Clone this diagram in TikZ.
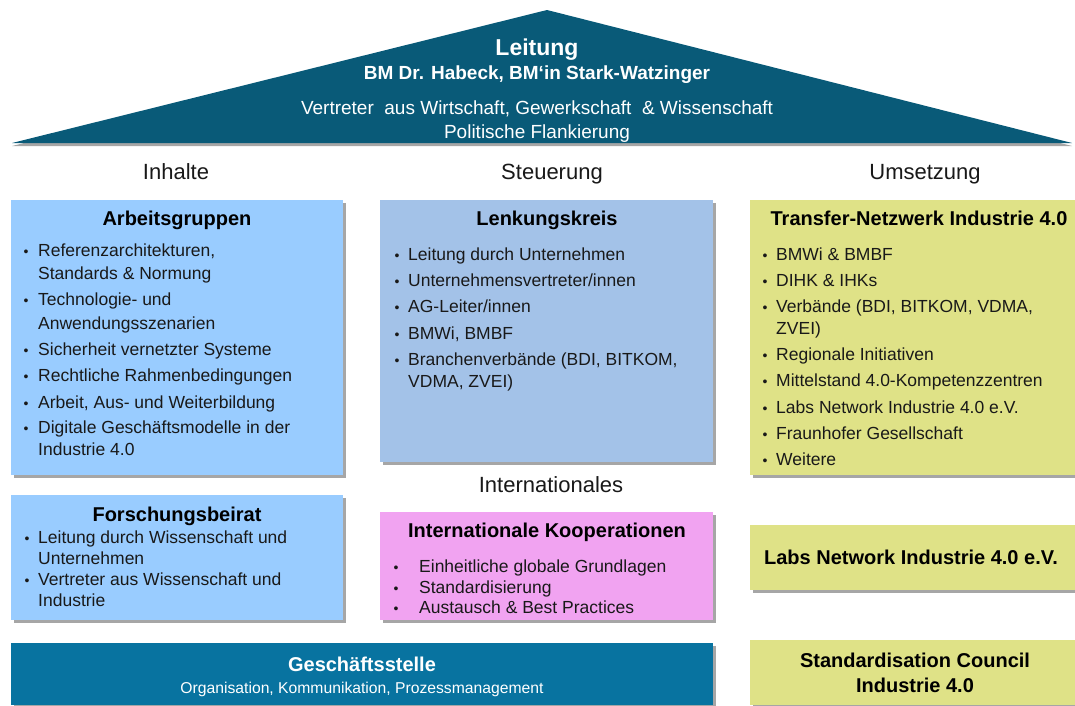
\documentclass[tikz,border=0pt]{standalone}
\usepackage{fontspec}
\setmainfont{Liberation Sans}
\usetikzlibrary{shadows}
\definecolor{roofc}{RGB}{9,90,120}
\definecolor{agblue}{RGB}{153,204,255}
\definecolor{lkblue}{RGB}{163,194,232}
\definecolor{yel}{RGB}{223,226,135}
\definecolor{pink}{RGB}{241,163,241}
\definecolor{gsc}{RGB}{8,115,160}
\definecolor{ink}{RGB}{25,25,25}
\tikzset{
  box/.style={anchor=north west, inner sep=0pt, draw=none,
    drop shadow={shadow xshift=3pt, shadow yshift=-3pt, fill=black, opacity=0.35}},
  txt/.style={anchor=base west, inner sep=0pt, text=ink, font=\fontsize{17.5}{20}\selectfont},
  bul/.style={anchor=base, inner sep=0pt, text=ink, font=\fontsize{14}{16}\selectfont},
  ttl/.style={anchor=base, inner sep=0pt, text=black, font=\fontsize{20}{24}\selectfont\bfseries},
  colhead/.style={anchor=base, inner sep=0pt, text=ink, font=\fontsize{22}{26}\selectfont},
  rooftxt/.style={anchor=base, inner sep=0pt, text=white}
}
\newcommand\bl[5]{%
  \node[bul] (#1b) at (#2,{#4+6}) {\textbullet};
  \node[txt] (#1) at (#3,{#4+6}) {#5};}
\newcommand\cl[4]{\node[txt] (#1) at (#2,{#3+6}) {#4};}
\begin{document}
\begin{tikzpicture}[x=1pt,y=-1pt]
\useasboundingbox (0,0) rectangle (1075,705);
\fill[white] (0,0) rectangle (1075,705);
% roof
\fill[roofc, drop shadow={shadow xshift=0pt, shadow yshift=-3pt, fill=black, opacity=0.35}]
  (12,143) -- (547,10) -- (1072,143) -- cycle;
\node[rooftxt, font=\fontsize{23}{27}\selectfont\bfseries] (leit) at (537,55) {Leitung};
\node[rooftxt, font=\fontsize{19}{23}\selectfont\bfseries] (bm) at (537,79) {BM Dr. Habeck, BM‘in Stark-Watzinger};
\node[rooftxt, font=\fontsize{19}{22}\selectfont] (vert) at (537,114) {Vertreter\ \ aus Wirtschaft, Gewerkschaft\ \ \& Wissenschaft};
\node[rooftxt, font=\fontsize{19}{22}\selectfont] (polit) at (537,138) {Politische Flankierung};
% column headings
\node[colhead] (inh) at (176,179) {Inhalte};
\node[colhead] (steu) at (552,179) {Steuerung};
\node[colhead] (ums) at (925,179) {Umsetzung};
\node[colhead] (intl) at (551,492) {Internationales};
% boxes
\node[box, fill=agblue, minimum width=332pt, minimum height=275pt] (ag) at (11,200) {};
\node[box, fill=lkblue, minimum width=333pt, minimum height=262pt] (lk) at (380,200) {};
\node[box, fill=yel, minimum width=325pt, minimum height=275pt] (tn) at (750,200) {};
\node[box, fill=agblue, minimum width=332pt, minimum height=125pt] (fb) at (11,495) {};
\node[box, fill=pink, minimum width=333pt, minimum height=108pt] (ik) at (380,512) {};
\node[box, fill=yel, minimum width=325pt, minimum height=65pt] (ln) at (750,525) {};
\node[box, fill=gsc, minimum width=702pt, minimum height=62pt] (gs) at (11,643) {};
\node[box, fill=yel, minimum width=325pt, minimum height=65pt] (sc) at (750,640) {};
% Arbeitsgruppen
\node[ttl] (agt) at (177,225) {Arbeitsgruppen};
\bl{ag1}{26}{38}{250}{Referenzarchitekturen,}
\cl{ag1b2}{38}{273}{Standards \& Normung}
\bl{ag2}{26}{38}{299}{Technologie- und}
\cl{ag2b2}{38}{323}{Anwendungsszenarien}
\bl{ag3}{26}{38}{349}{Sicherheit vernetzter Systeme}
\bl{ag4}{26}{38}{375}{Rechtliche Rahmenbedingungen}
\bl{ag5}{26}{38}{402}{Arbeit, Aus- und Weiterbildung}
\bl{ag6}{26}{38}{427}{Digitale Geschäftsmodelle in der}
\cl{ag6b2}{38}{449}{Industrie 4.0}
% Lenkungskreis
\node[ttl] (lkt) at (547,225) {Lenkungskreis};
\bl{lk1}{397}{408}{254}{Leitung durch Unternehmen}
\bl{lk2}{397}{408}{280}{Unternehmensvertreter/innen}
\bl{lk3}{397}{408}{306}{AG-Leiter/innen}
\bl{lk4}{397}{408}{333}{BMWi, BMBF}
\bl{lk5}{397}{408}{359}{Branchenverbände (BDI, BITKOM,}
\cl{lk5b2}{408}{381}{VDMA, ZVEI)}
% Transfer-Netzwerk
\node[ttl] (tnt) at (919,225) {Transfer-Netzwerk Industrie 4.0};
\bl{tn1}{765}{776}{254}{BMWi \& BMBF}
\bl{tn2}{765}{776}{280}{DIHK \& IHKs}
\bl{tn3}{765}{776}{306}{Verbände (BDI, BITKOM, VDMA,}
\cl{tn3b2}{776}{328}{ZVEI)}
\bl{tn4}{765}{776}{354}{Regionale Initiativen}
\bl{tn5}{765}{776}{380}{Mittelstand 4.0-Kompetenzzentren}
\bl{tn6}{765}{776}{407}{Labs Network Industrie 4.0 e.V.}
\bl{tn7}{765}{776}{433}{Fraunhofer Gesellschaft}
\bl{tn8}{765}{776}{459}{Weitere}
% Forschungsbeirat
\node[ttl] (fbt) at (177,521) {Forschungsbeirat};
\bl{fb1}{27}{38}{537}{Leitung durch Wissenschaft und}
\cl{fb1b2}{38}{558}{Unternehmen}
\bl{fb2}{27}{38}{579}{Vertreter aus Wissenschaft und}
\cl{fb2b2}{38}{600}{Industrie}
% Internationale Kooperationen
\node[ttl] (ikt) at (547,537) {Internationale Kooperationen};
\bl{ik1}{396}{419}{566}{Einheitliche globale Grundlagen}
\bl{ik2}{396}{419}{587}{Standardisierung}
\bl{ik3}{396}{419}{607}{Austausch \& Best Practices}
% Labs Network
\node[ttl] (lnt) at (911,564) {Labs Network Industrie 4.0 e.V.};
% Geschaeftsstelle
\node[ttl, text=white] (gst) at (362,671) {Geschäftsstelle};
\node[anchor=base, inner sep=0pt, text=white, font=\fontsize{15.7}{18}\selectfont] (gss) at (362,693) {Organisation, Kommunikation, Prozessmanagement};
% Standardisation Council
\node[ttl] (sct1) at (915,667) {Standardisation Council};
\node[ttl] (sct2) at (915,692) {Industrie 4.0};
\end{tikzpicture}
\end{document}
